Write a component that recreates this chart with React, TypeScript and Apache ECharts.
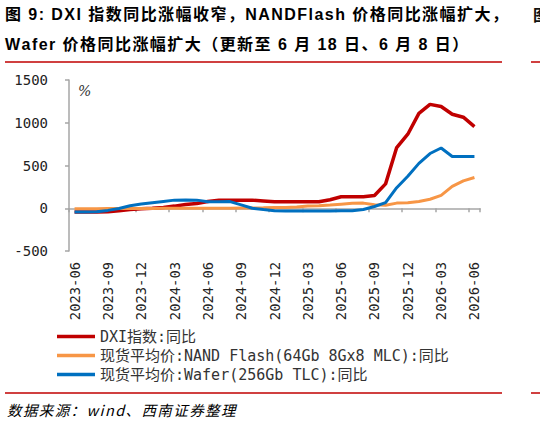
import React, { useEffect, useRef } from "react";
import * as echarts from "echarts";

const months = [
  "2023-06","2023-07","2023-08","2023-09","2023-10","2023-11","2023-12",
  "2024-01","2024-02","2024-03","2024-04","2024-05","2024-06",
  "2024-07","2024-08","2024-09","2024-10","2024-11","2024-12",
  "2025-01","2025-02","2025-03","2025-04","2025-05","2025-06",
  "2025-07","2025-08","2025-09","2025-10","2025-11","2025-12",
  "2026-01","2026-02","2026-03","2026-04","2026-05","2026-06",
];

const dxiYoY = [
  -45, -45, -45, -42, -30, -15, -5, 0, 10, 25, 45, 55, 80,
  95, 95, 95, 95, 85, 75, 75, 75, 75, 75, 100, 135,
  135, 135, 150, 285, 710, 866, 1110, 1215, 1190, 1100, 1065, 955,
];

const nandYoY = [
  -5, -5, -5, -3, -3, -2, -2, -2, 0, 0, 0, 0, 0,
  0, 0, 2, 3, 5, 8, 10, 15, 25, 30, 38, 48,
  58, 60, 40, 35, 60, 65, 80, 105, 150, 255, 320, 360,
];

const waferYoY = [
  -45, -45, -40, -25, -3, 30, 50, 65, 80, 95, 97, 95, 75,
  75, 78, 40, 0, -15, -28, -32, -32, -32, -32, -32, -30,
  -28, -15, 20, 65, 240, 375, 525, 640, 705, 605, 605, 605,
];

const seriesNames = [
  "DXI指数:同比",
  "现货平均价:NAND Flash(64Gb 8Gx8 MLC):同比",
  "现货平均价:Wafer(256Gb TLC):同比",
];

const yTicks = { min: -500, max: 1500, interval: 500 };

const titleLine1 = "图 9: DXI 指数同比涨幅收窄，NANDFlash 价格同比涨幅扩大，";
const titleLine2 = "Wafer 价格同比涨幅扩大（更新至 6 月 18 日、6 月 8 日）";
const sourceText = "数据来源：wind、西南证券整理";

const MONO = "'DejaVu Sans Mono', 'Noto Sans CJK SC', monospace";
const AXIS_COLOR = "#A6A6A6";

// split a string into rich-text tokens so each character gets a small trailing gap
const spaced = (s: string) =>
  Array.from(s)
    .map((ch) => `{c|${ch}}`)
    .join("");

export default function App() {
  const ref = useRef<HTMLDivElement>(null);
  useEffect(() => {
    if (!ref.current) return;
    const chart = echarts.init(ref.current, undefined, { renderer: "svg" });
    const titleRich = {
      c: {
        fontFamily: "'Liberation Sans', 'Noto Sans CJK SC', sans-serif",
        fontWeight: "bold",
        fontSize: 16,
        color: "#111",
        padding: [0, 1.45, 0, 0],
      },
    };
    chart.setOption({
      animation: false,
      backgroundColor: "#ffffff",
      grid: { left: 69, right: 60, top: 80, bottom: 171, containLabel: false },
      xAxis: [
        {
          type: "category",
          data: months,
          position: "top",
          boundaryGap: true,
          axisLine: { show: true, onZero: true, lineStyle: { color: AXIS_COLOR, width: 1.5 } },
          axisTick: { show: true, interval: 2, inside: true, length: 4, lineStyle: { color: AXIS_COLOR, width: 1.5 } },
          axisLabel: { show: false },
          splitLine: { show: false },
        },
        {
          type: "category",
          data: months,
          position: "bottom",
          boundaryGap: true,
          axisLine: { show: false, onZero: false },
          axisTick: { show: false },
          axisLabel: {
            show: true,
            interval: 2,
            rotate: 90,
            margin: 11,
            fontFamily: MONO,
            fontSize: 13.8,
            color: "#222",
          },
          splitLine: { show: false },
        },
      ],
      yAxis: {
        type: "value",
        min: yTicks.min,
        max: yTicks.max,
        interval: yTicks.interval,
        axisLine: { show: true, lineStyle: { color: AXIS_COLOR, width: 1.5 } },
        axisTick: { show: true, length: 4, lineStyle: { color: AXIS_COLOR, width: 1.5 } },
        axisLabel: {
          margin: 21,
          fontFamily: MONO,
          fontSize: 14,
          color: "#222",
          formatter: (v: number) => String(v),
        },
        splitLine: { show: false },
      },
      legend: {
        orient: "vertical",
        left: 57,
        top: 329,
        icon: "rect",
        itemWidth: 38,
        itemHeight: 3.5,
        itemGap: 4,
        padding: 0,
        textStyle: { fontFamily: MONO, fontSize: 15, color: "#333", lineHeight: 15 },
        data: seriesNames,
      },
      series: [
        {
          name: seriesNames[0],
          type: "line",
          data: dxiYoY,
          showSymbol: false,
          symbol: "none",
          lineStyle: { color: "#C00000", width: 3.5 },
          itemStyle: { color: "#C00000" },
        },
        {
          name: seriesNames[1],
          type: "line",
          data: nandYoY,
          showSymbol: false,
          symbol: "none",
          lineStyle: { color: "#F79646", width: 3 },
          itemStyle: { color: "#F79646" },
        },
        {
          name: seriesNames[2],
          type: "line",
          data: waferYoY,
          showSymbol: false,
          symbol: "none",
          lineStyle: { color: "#0070C0", width: 3 },
          itemStyle: { color: "#0070C0" },
        },
      ],
      graphic: [
        {
          type: "text",
          left: 5,
          top: 6,
          style: { text: spaced(titleLine1), rich: titleRich },
        },
        {
          type: "text",
          left: 5,
          top: 36,
          style: { text: spaced(titleLine2), rich: titleRich },
        },
        {
          type: "text",
          left: 533,
          top: 6,
          style: {
            text: "图",
            font: "bold 16px 'Noto Sans CJK SC', sans-serif",
            fill: "#111",
          },
        },
        {
          type: "line",
          shape: { x1: 5, y1: 62, x2: 502, y2: 62 },
          style: { stroke: "#C00000", lineWidth: 1.5 },
        },
        {
          type: "line",
          shape: { x1: 531, y1: 62, x2: 540, y2: 62 },
          style: { stroke: "#C00000", lineWidth: 1.5 },
        },
        {
          type: "line",
          shape: { x1: 5, y1: 393, x2: 502, y2: 393 },
          style: { stroke: "#C00000", lineWidth: 1.5 },
        },
        {
          type: "line",
          shape: { x1: 531, y1: 393, x2: 540, y2: 393 },
          style: { stroke: "#C00000", lineWidth: 1.5 },
        },
        {
          type: "text",
          left: 78,
          top: 84,
          style: {
            text: "%",
            font: "italic 14px 'DejaVu Serif', serif",
            fill: "#333",
          },
        },
        {
          type: "text",
          left: 7,
          top: 402,
          style: {
            text: spaced(sourceText),
            rich: {
              c: {
                fontFamily: "'Noto Sans CJK SC', sans-serif",
                fontStyle: "italic",
                fontSize: 14.5,
                color: "#222",
                padding: [0, 1.4, 0, 0],
              },
            },
          },
        },
      ],
    });
    return () => chart.dispose();
  }, []);
  return <div ref={ref} style={{ width: 540, height: 422, position: "absolute", left: 0, top: 0 }} />;
}
